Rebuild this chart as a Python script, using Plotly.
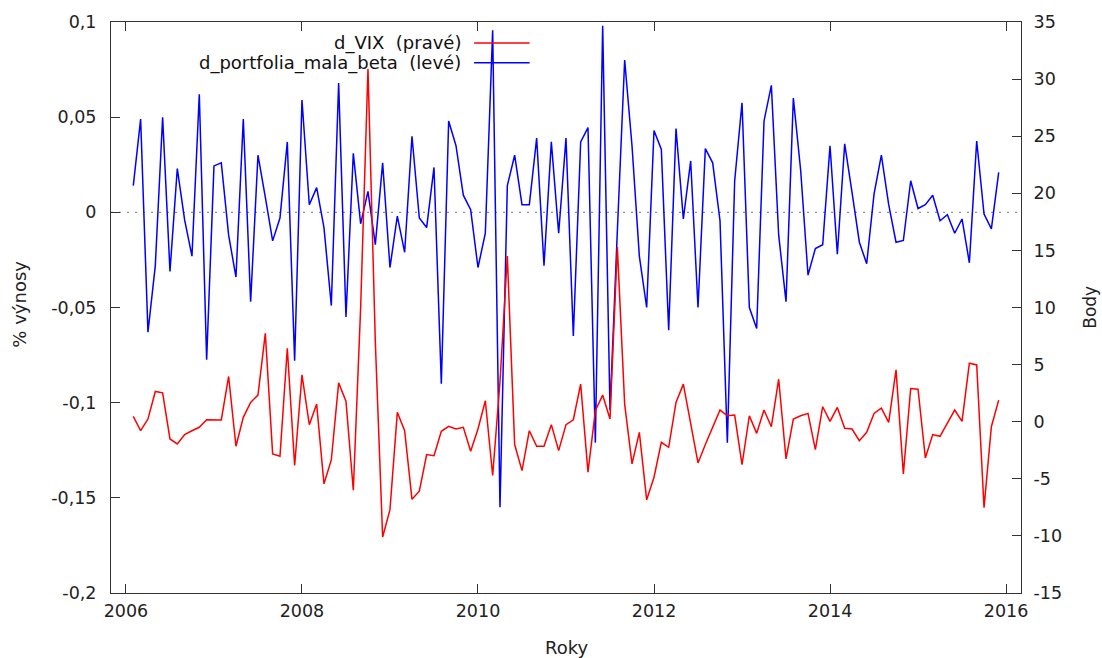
import pandas as pd
import plotly.graph_objects as go

# monthly first differences, 2006-02 .. 2015-12
months = pd.date_range("2006-02-01", "2015-12-01", freq="MS")

d_portfolia_mala_beta = [
    0.014, 0.049, -0.063, -0.028, 0.050, -0.031, 0.023, -0.004, -0.023, 0.062,
    -0.0775, 0.0244, 0.026, -0.012, -0.034, 0.049, -0.047, 0.030, 0.008, -0.015,
    -0.003, 0.037, -0.078, 0.059, 0.004, 0.013, -0.008, -0.049, 0.068, -0.055,
    0.031, -0.006, 0.011, -0.017, 0.026, -0.029, -0.002, -0.021, 0.040, -0.003,
    -0.008, 0.0236, -0.090, 0.048, 0.035, 0.009, 0.0014, -0.029, -0.011, 0.0956,
    -0.155, 0.014, 0.030, 0.004, 0.004, 0.039, -0.028, 0.037, -0.011, 0.039,
    -0.065, 0.037, 0.0445, -0.121, 0.098, -0.104, -0.010, 0.080, 0.035, -0.023,
    -0.050, 0.043, 0.033, -0.062, 0.044, -0.0035, 0.027, -0.050, 0.0335, 0.026,
    -0.0044, -0.121, 0.0166, 0.0576, -0.050, -0.061, 0.048, 0.0667, -0.012, -0.047,
    0.060, 0.022, -0.033, -0.019, -0.017, 0.035, -0.022, 0.036, 0.0105, -0.0157,
    -0.027, 0.0096, 0.030, 0.004, -0.0157, -0.0148, 0.0166, 0.002, 0.004, 0.009,
    -0.0044, -0.0012, -0.011, -0.0035, -0.0265, 0.0375, -0.0009, -0.0087, 0.021,
]

d_VIX = [
    0.47, -0.79, 0.23, 2.65, 2.53, -1.51, -1.95, -1.13, -0.79, -0.49,
    0.17, 0.15, 0.15, 3.96, -2.15, 0.38, 1.69, 2.33, 7.74, -2.82,
    -3.02, 6.43, -3.84, 4.10, -0.26, 1.54, -5.44, -3.35, 3.4, 1.8,
    -6.0, 10.0, 30.9, 7.0, -10.1, -7.7, 0.82, -0.79, -6.8, -6.08,
    -2.88, -2.97, -0.84, -0.41, -0.64, -0.49, -2.59, -0.64, 1.83, -4.71,
    3.5, 14.5, -2.0, -4.28, -0.79, -2.15, -2.15, -0.26, -2.53, -0.26,
    0.17, 3.29, -4.42, 0.96, 2.33, 0.23, 15.3, 1.54, -3.69, -0.93,
    -6.84, -4.86, -1.80, -2.24, 1.69, 3.29, -0.20, -3.61, -2.0, -0.5,
    1.02, 0.52, 0.58, -3.75, 0.52, -1.02, 1.02, -0.44, 3.72, -3.26,
    0.23, 0.52, 0.73, -2.44, 1.31, 0.03, 1.25, -0.58, -0.64, -1.66,
    -0.93, 0.73, 1.19, -0.06, 4.54, -4.57, 2.91, 2.85, -3.17, -1.13,
    -1.28, -0.12, 1.02, 0.03, 5.12, 4.97, -7.53, -0.44, 1.89,
]

x_ticks = [2006, 2008, 2010, 2012, 2014, 2016]
y_left_ticks = [0.1, 0.05, 0, -0.05, -0.1, -0.15, -0.2]
y_left_text = ["0,1", "0,05", "0", "-0,05", "-0,1", "-0,15", "-0,2"]
y_right_ticks = [35, 30, 25, 20, 15, 10, 5, 0, -5, -10, -15]
y_right_text = ["35", "30", "25", "20", "15", "10", "5", "0", "-5", "-10", "-15"]

x = [m.year + (m.month - 1) / 12 for m in months]

FONT = "DejaVu Sans"
AX = "#333333"
TICK_SIZE = 17.5
TEXT_SIZE = 18

fig = go.Figure()
fig.add_trace(go.Scatter(x=x, y=d_VIX, mode="lines", name="d_VIX  (pravé)",
                         line=dict(color="#ff0000", width=1.5), yaxis="y2"))
fig.add_trace(go.Scatter(x=x, y=d_portfolia_mala_beta, mode="lines",
                         name="d_portfolia_mala_beta  (levé)",
                         line=dict(color="#0000ff", width=1.5), yaxis="y"))

fig.update_layout(
    width=1102, height=658,
    margin=dict(l=111, r=81, t=18, b=65),
    paper_bgcolor="white", plot_bgcolor="white",
    showlegend=False,
    font=dict(family=FONT, size=TICK_SIZE, color="#222222"),
    xaxis=dict(range=[2005.83, 2016.17], tickvals=x_ticks,
               ticktext=[str(v) for v in x_ticks],
               showgrid=False, zeroline=False, showline=True, linecolor=AX,
               linewidth=1, mirror="ticks", ticks="inside", ticklen=9,
               tickcolor=AX, ticklabelstandoff=2),
    yaxis=dict(range=[-0.2, 0.1], tickvals=y_left_ticks, ticktext=y_left_text,
               showgrid=False, zeroline=False, showline=True, linecolor=AX,
               linewidth=1, ticks="inside", ticklen=9, tickcolor=AX,
               ticklabelstandoff=10),
    yaxis2=dict(range=[-15, 35], tickvals=y_right_ticks, ticktext=y_right_text,
                overlaying="y", side="right",
                showgrid=False, zeroline=False, showline=True, linecolor=AX,
                linewidth=1, ticks="inside", ticklen=9, tickcolor=AX,
                ticklabelstandoff=8),
)

# dotted zero line on the left axis
fig.add_shape(type="line", xref="paper", x0=0, x1=1, yref="y", y0=0, y1=0,
              line=dict(color="#909090", width=1.3, dash="2px,6px"), layer="below")

# axis titles
fig.add_annotation(text="% výnosy", xref="paper", yref="paper", x=-0.1, y=0.505,
                   xanchor="center", yanchor="middle",
                   showarrow=False, textangle=-90, font=dict(size=TEXT_SIZE))
fig.add_annotation(text="Body", xref="paper", yref="paper", x=1.075, y=0.5,
                   xanchor="center", yanchor="middle",
                   showarrow=False, textangle=-90, font=dict(size=TEXT_SIZE - 1))
fig.add_annotation(text="Roky", xref="paper", yref="paper", x=0.501, y=-0.096,
                   xanchor="center", yanchor="middle",
                   showarrow=False, font=dict(size=TEXT_SIZE))

# gnuplot-style key: right-aligned text with sample line on the right
key = [("d_VIX  (pravé)", "#ff0000", 0.9634),
       ("d_portfolia_mala_beta  (levé)", "#0000ff", 0.9286)]
for label, col, yy in key:
    fig.add_annotation(text=label.replace("  ", "&nbsp;&nbsp;"), xref="paper", yref="paper",
                       x=0.387, y=yy, xanchor="right", yanchor="middle",
                       showarrow=False, font=dict(size=TEXT_SIZE, color="#111111"))
    fig.add_shape(type="line", xref="paper", yref="paper", x0=0.399, x1=0.460,
                  y0=yy, y1=yy, line=dict(color=col, width=1.5))

fig.write_html("out.html")
